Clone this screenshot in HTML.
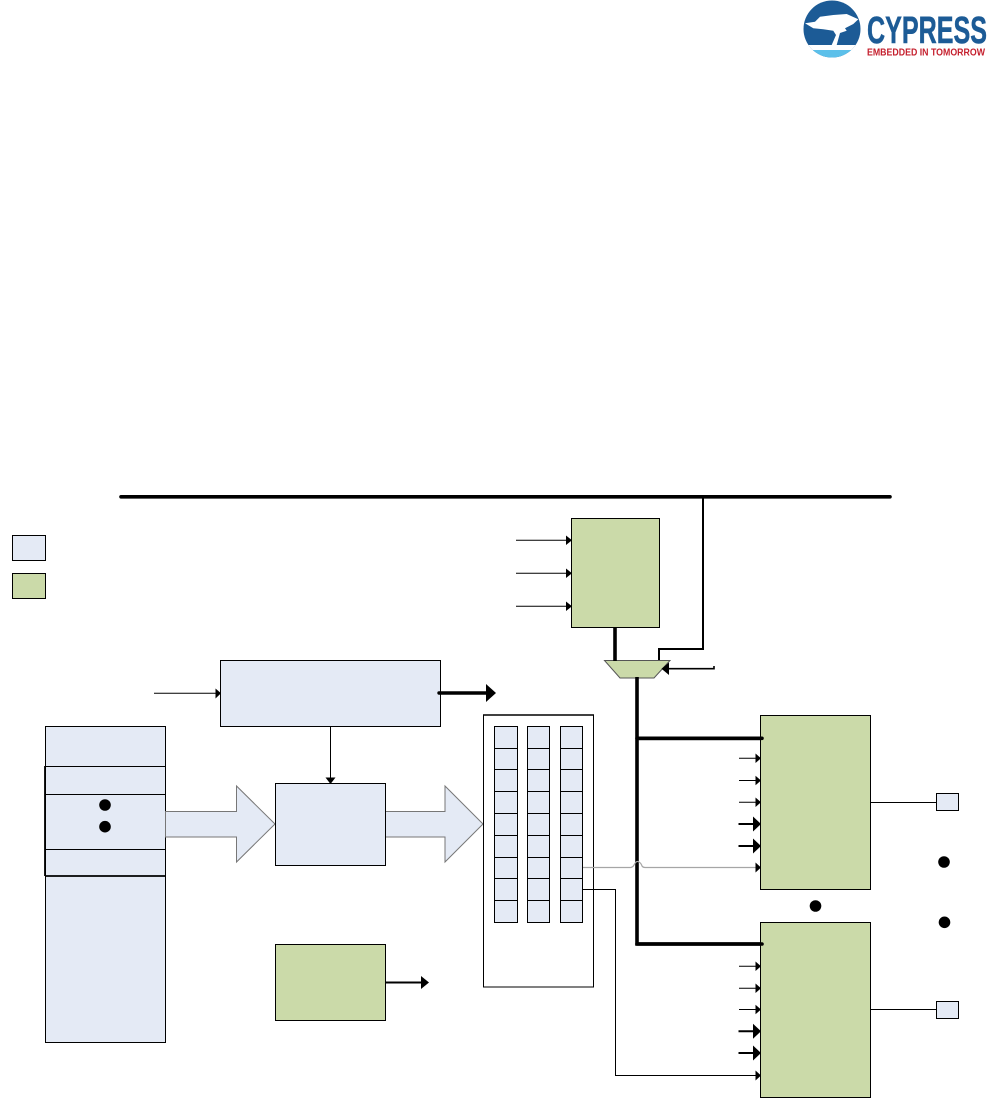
<!DOCTYPE html>
<html><head><meta charset="utf-8"><style>
html,body{margin:0;padding:0;background:#fff}
svg{display:block}
</style></head><body>
<svg xmlns="http://www.w3.org/2000/svg" width="992" height="1099" viewBox="0 0 992 1099">
<defs>
<clipPath id="c"><circle cx="832" cy="29" r="28.5"/></clipPath>
</defs>
<!-- logo -->
<g clip-path="url(#c)">
<rect x="803" y="0" width="58" height="58" fill="#1c5b96"/>
<rect x="803" y="45" width="58" height="5" fill="#fff"/>
<rect x="803" y="50" width="58" height="9" fill="#5cc0ea"/>
<path d="M805 23.3L815 21.7L820 16.7L833.3 15L846.7 14L858.3 19.3L853.3 24L845 28.3L846.7 30.7L840 33L836.7 45H831.7L836 35L833.3 30.7L823.3 29.3L813.3 28.3Z" fill="#fff"/>
</g>
<text x="867" y="43" font-family="Liberation Sans, sans-serif" font-weight="700" font-size="38" fill="#1c5b96" stroke="#1c5b96" stroke-width="0.5" textLength="120" lengthAdjust="spacingAndGlyphs">CYPRESS</text>
<text x="867" y="55.3" font-family="Liberation Sans, sans-serif" font-weight="700" font-size="10" fill="#c5202e" textLength="118" lengthAdjust="spacingAndGlyphs">EMBEDDED IN TOMORROW</text>

<g stroke="#000" fill="none">
<!-- bus -->
<path d="M121 496.8H890" stroke-width="3.6" stroke-linecap="round"/>
<path d="M703 497V649H659V661" stroke-width="2"/>

<!-- legend -->
<rect x="12.5" y="535.5" width="33" height="25" fill="#e4eaf5" stroke-width="1"/>
<rect x="12.5" y="573.5" width="33" height="25" fill="#cbdaa9" stroke-width="1"/>

<!-- top green box -->
<rect x="571.5" y="518.5" width="88" height="109" fill="#cbdaa9" stroke-width="1"/>
<path d="M516 540.3H567M516 573.3H567M516 606.3H567" stroke-width="1"/>

<!-- mux -->
<path d="M604.5 660.5H670L654 678H620Z" fill="#cbdaa9" stroke="#555" stroke-width="1"/>
<path d="M659 649V660" stroke-width="2"/>
<path d="M615 627V661" stroke-width="3.6"/>
<path d="M666 668.7H714V666" stroke-width="1.6"/>
<path d="M637 677V944H762" stroke-width="3.6"/>
<path d="M637 738.3H762" stroke-width="3.6"/>

<!-- left stack -->
<rect x="45.5" y="726.5" width="120" height="316" fill="#e4eaf5" stroke-width="1"/>
<path d="M45 766.5H165M45 794.5H165M45 849.5H165" stroke-width="1"/>
<path d="M45 876H165" stroke-width="1.8"/>
<path d="M45 766V876" stroke-width="1.8"/>

<!-- block arrows -->
<path d="M165.5 811.5H236.5V786L275 824L236.5 862V837H165.5Z" fill="#e4eaf5" stroke="#777" stroke-width="1"/>
<path d="M385.5 811.5H445V786L483 824L445 862V837H385.5Z" fill="#e4eaf5" stroke="#777" stroke-width="1"/>

<!-- top blue -->
<rect x="220.5" y="660.5" width="220" height="66" fill="#e4eaf5" stroke-width="1"/>
<path d="M154 693.3H216" stroke-width="1"/>
<path d="M439 693H486" stroke-width="3.4" stroke-linecap="round"/>
<path d="M330.5 727V779" stroke-width="1"/>

<!-- middle blue -->
<rect x="275.5" y="783.5" width="110" height="82" fill="#e4eaf5" stroke-width="1"/>

<!-- bottom green -->
<rect x="275.5" y="944.5" width="110" height="76" fill="#cbdaa9" stroke-width="1"/>
<path d="M386 982.5H423" stroke-width="2"/>

<!-- panel -->
<rect x="483.5" y="715" width="110" height="272" fill="#fff" stroke-width="1"/>
<path d="M483 715H594" stroke-width="1.4"/>
<g fill="#e4eaf5" stroke-width="1">
<rect x="494.5" y="726.5" width="23" height="196"/>
<rect x="527.5" y="726.5" width="22" height="196"/>
<rect x="560.5" y="726.5" width="22" height="196"/>
</g>
<path stroke-width="1" d="M494 748.5H518M527 748.5H550M560 748.5H583
M494 769.5H518M527 769.5H550M560 769.5H583
M494 791.5H518M527 791.5H550M560 791.5H583
M494 813.5H518M527 813.5H550M560 813.5H583
M494 835.5H518M527 835.5H550M560 835.5H583
M494 857.5H518M527 857.5H550M560 857.5H583
M494 878.5H518M527 878.5H550M560 878.5H583
M494 900.5H518M527 900.5H550M560 900.5H583"/>

<!-- grey line with hop -->
<path d="M583 867.5H631Q633 867 634 865Q636.5 860 639 862Q641 863 642 866Q643 867.5 645 867.5H756" stroke="#a6a6a6" stroke-width="1.2"/>
<!-- black routed -->
<path d="M583 889.5H615.5V1075.5H756" stroke-width="1"/>

<!-- right boxes -->
<rect x="760.5" y="715.5" width="110" height="174" fill="#cbdaa9" stroke-width="1"/>
<rect x="760.5" y="922.5" width="110" height="175" fill="#cbdaa9" stroke-width="1"/>
<path d="M637 738.3H762M637 944H762" stroke-width="3.6" stroke-linecap="round"/>

<path d="M739 758.3H756M739 780.5H756M739 802.3H756M739 966.3H756M739 988.3H756M739 1009.5H756" stroke-width="1"/>
<path d="M738.5 824H754M738.5 846H754M738.5 1031.3H754M738.5 1053H754" stroke-width="2" />

<!-- outputs -->
<path d="M871 802.5H936M871 1009.5H936" stroke-width="1"/>
<rect x="936.5" y="793.5" width="22" height="17" fill="#e4eaf5" stroke-width="1"/>
<rect x="936.5" y="1001.5" width="22" height="17" fill="#e4eaf5" stroke-width="1"/>
</g>

<!-- arrowheads -->
<g fill="#000">
<path d="M566 535.5L572 540.3L566 545ZM566 568.5L572 573.3L566 578ZM566 601.5L572 606.3L566 611Z"/>
<path d="M661.5 668.7L669 662.5V675Z"/>
<path d="M215.5 688.5L221 693.3L215.5 698.5Z"/>
<path d="M486 684L496 693L486 702Z"/>
<path d="M325.5 777.5H335.5L330.5 784Z"/>
<path d="M421 976L429 982.5L421 989Z"/>

<path d="M755.5 753.5L761 758.3L755.5 763ZM755.5 775.7L761 780.5L755.5 785.3ZM755.5 797.5L761 802.3L755.5 807ZM755.5 862.5L761 867.5L755.5 872.5Z"/>
<path d="M755.5 961.5L761 966.3L755.5 971ZM755.5 983.5L761 988.3L755.5 993ZM755.5 1004.7L761 1009.5L755.5 1014.3ZM755.5 1070.5L761 1075.5L755.5 1080.5Z"/>
<path d="M753 816.5L761 824L753 831.5ZM753 838.5L761 846L753 853.5ZM753 1023.8L761 1031.3L753 1038.8ZM753 1045.5L761 1053L753 1060.5Z"/>

<circle cx="105" cy="805" r="5.8"/>
<circle cx="105" cy="826.7" r="5.8"/>
<circle cx="815.5" cy="906" r="5.8"/>
<circle cx="944" cy="862" r="5.8"/>
<circle cx="944.5" cy="922.3" r="5.8"/>
</g>
</svg>
</body></html>
